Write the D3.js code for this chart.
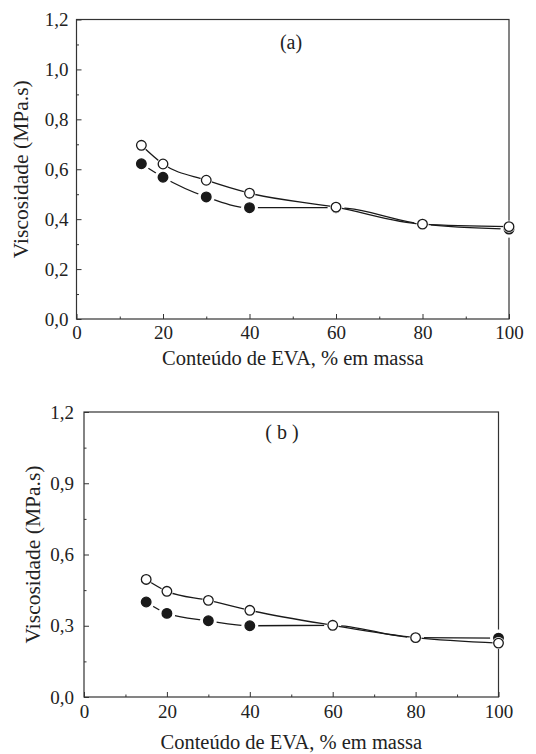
<!DOCTYPE html>
<html>
<head>
<meta charset="utf-8">
<script src="https://cdn.jsdelivr.net/npm/d3@7"></script>
</head>
<body style="margin:0; background:#fff">
<svg width="536" height="754"></svg>
<script>
// EVA content (% by mass)
var evaContent = [15, 20, 30, 40, 60, 80, 100];

// panel (a)
var aFilled = [0.622, 0.568, 0.489, 0.446, 0.446, 0.380, 0.360];
var aOpen   = [0.696, 0.621, 0.556, 0.504, 0.448, 0.380, 0.370];

// panel (b)
var bFilled = [0.400, 0.352, 0.321, 0.300, 0.302, 0.250, 0.248];
var bOpen   = [0.495, 0.445, 0.407, 0.365, 0.302, 0.250, 0.227];

var xTicks = [0, 20, 40, 60, 80, 100];
var aYTicks = [0, 0.2, 0.4, 0.6, 0.8, 1.0, 1.2];
var bYTicks = [0, 0.3, 0.6, 0.9, 1.2];

var xTitle = "Conteúdo de EVA, % em massa";
var yTitle = "Viscosidade (MPa.s)";

var FONT = "'Liberation Serif'";
var svg = d3.select("svg");
var fmt = d3.formatLocale({decimal: ",", thousands: ".", grouping: [3], currency: ["", ""]}).format(".1f");

function styleAxis(sel) {
    sel.select(".domain").remove();
    sel.selectAll("line").attr("stroke", "#333");
    sel.selectAll("text").style("font-family", FONT).style("font-size", "19px").attr("fill", "#222");
}

function drawPanel(p) {
    var x = d3.scaleLinear().domain([0, 100]).range([p.left, p.right]);
    var y = d3.scaleLinear().domain([0, 1.2]).range([p.bottom, p.top]);
    var g = svg.append("g");

    // minor ticks
    g.append("g")
        .attr("transform", "translate(0," + p.bottom + ")")
        .call(d3.axisBottom(x).tickValues(d3.range(10, 100, 20)).tickSize(-2.5).tickFormat(""))
        .call(styleAxis);
    g.append("g")
        .attr("transform", "translate(" + p.left + ",0)")
        .call(d3.axisLeft(y).tickValues(p.yMinor).tickSize(-2.5).tickFormat(""))
        .call(styleAxis);

    // major ticks
    g.append("g")
        .attr("transform", "translate(0," + p.bottom + ")")
        .call(d3.axisBottom(x).tickValues(xTicks).tickSizeInner(-5).tickSizeOuter(0).tickPadding(p.xPad).tickFormat(d3.format("d")))
        .call(styleAxis);
    g.append("g")
        .attr("transform", "translate(" + p.left + ",0)")
        .call(d3.axisLeft(y).tickValues(p.yTicks).tickSizeInner(-5).tickSizeOuter(0).tickPadding(p.yPad).tickFormat(fmt))
        .call(styleAxis);

    // frame
    g.append("rect")
        .attr("x", p.left).attr("y", p.top)
        .attr("width", p.right - p.left).attr("height", p.bottom - p.top)
        .attr("fill", "none").attr("stroke", "#333").attr("stroke-width", 1.2);

    var line = d3.line()
        .x(function (d, i) { return x(evaContent[i]); })
        .y(function (d) { return y(d); })
        .curve(d3.curveMonotoneX);

    function series(vals, filled) {
        g.append("path").datum(vals)
            .attr("d", line)
            .attr("fill", "none").attr("stroke", "#1a1a1a").attr("stroke-width", 1.3);
        // white halo gives the gap around the markers
        g.selectAll(null).data(vals).enter().append("circle")
            .attr("cx", function (d, i) { return x(evaContent[i]); })
            .attr("cy", function (d) { return y(d); })
            .attr("r", filled ? 8.5 : 6)
            .attr("fill", "#fff");
        g.selectAll(null).data(vals).enter().append("circle")
            .attr("cx", function (d, i) { return x(evaContent[i]); })
            .attr("cy", function (d) { return y(d); })
            .attr("r", 4.8)
            .attr("fill", filled ? "#1a1a1a" : "#fff")
            .attr("stroke", "#1a1a1a").attr("stroke-width", 1.3);
    }
    series(p.filled, true);
    series(p.open, false);

    g.append("text")
        .attr("x", p.labelX).attr("y", p.labelY)
        .attr("text-anchor", "middle")
        .style("font-family", FONT).style("font-size", "20px").attr("fill", "#222")
        .text(p.label);

    g.append("text")
        .attr("x", (p.left + p.right) / 2).attr("y", p.xTitleY)
        .attr("text-anchor", "middle")
        .style("font-family", FONT).style("font-size", "20.5px").attr("fill", "#222")
        .text(xTitle);

    g.append("text")
        .attr("transform", "translate(" + p.yTitleX + "," + ((p.top + p.bottom) / 2) + ") rotate(-90)")
        .attr("text-anchor", "middle")
        .attr("dy", "0.35em")
        .style("font-family", FONT).style("font-size", "21.5px").attr("fill", "#222")
        .text(yTitle);
}

drawPanel({
    left: 76.5, right: 509, top: 19.5, bottom: 319,
    yTicks: aYTicks, yMinor: d3.range(0.1, 1.2, 0.2),
    filled: aFilled, open: aOpen,
    label: "(a)", labelX: 291, labelY: 49,
    xPad: 7, yPad: 8,
    xTitleY: 365, yTitleX: 20
});

drawPanel({
    left: 84, right: 498.5, top: 412, bottom: 697,
    yTicks: bYTicks, yMinor: d3.range(0.15, 1.2, 0.3),
    filled: bFilled, open: bOpen,
    label: "( b )", labelX: 282, labelY: 439,
    xPad: 8, yPad: 10,
    xTitleY: 749, yTitleX: 32
});
</script>
</body>
</html>
